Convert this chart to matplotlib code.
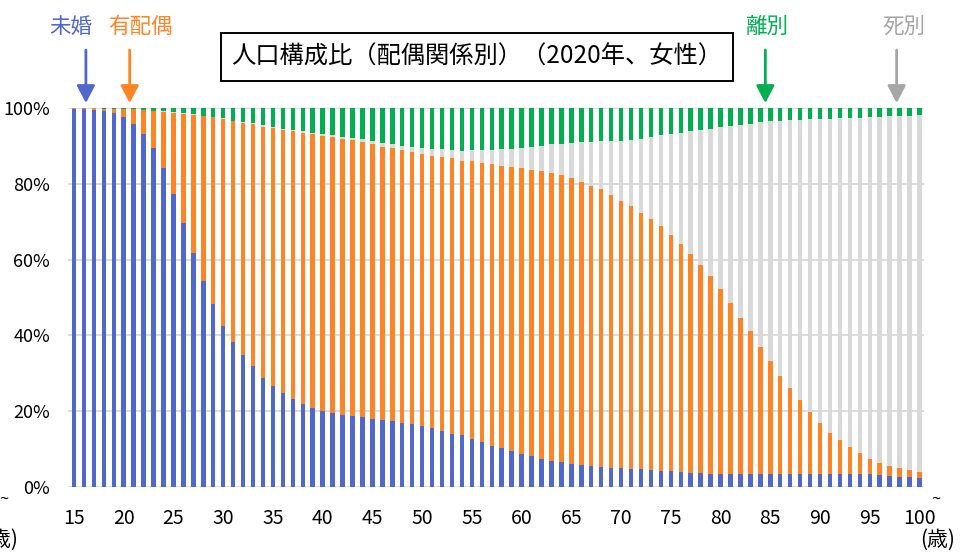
import numpy as np
import matplotlib
matplotlib.use("Agg")
import matplotlib.pyplot as plt

plt.rcParams['font.family'] = ['Noto Sans CJK JP', 'DejaVu Sans']

# ---- data (percent of women by marital status, 2020) ----
ages = list(range(15, 101))
tick_ages = list(range(15, 101, 5))
tick_labels = [str(a) for a in tick_ages]
series_names = ["未婚", "有配偶", "死別", "離別"]

never_married = [
    99.8, 99.7, 99.6, 99.3, 98.8, 97.7, 95.9, 93.2, 89.5, 84.3, 77.3, 69.7, 61.7, 54.4, 48.3, 42.6, 38.3, 34.7, 31.8, 28.8, 26.7,
    24.7, 23.1, 22.0, 20.9, 20.1, 19.5, 19.1, 18.8, 18.5, 18.0, 17.8, 17.3, 17.0, 16.7, 16.2, 15.6, 14.8, 14.1, 13.7, 12.6, 12.0,
    10.9, 10.2, 9.4, 8.8, 8.2, 7.5, 6.9, 6.7, 6.2, 5.9, 5.6, 5.3, 5.1, 4.9, 4.7, 4.7, 4.6, 4.3, 4.1, 3.9, 3.8,
    3.6, 3.5, 3.5, 3.5, 3.3, 3.3, 3.3, 3.3, 3.3, 3.3, 3.5, 3.5, 3.5, 3.5, 3.5, 3.5, 3.3, 3.3, 3.1, 3.0, 2.7, 2.6, 2.3,
]
married = [
    0.1, 0.2, 0.3, 0.5, 1.0, 2.1, 3.8, 6.3, 9.8, 14.7, 21.5, 28.8, 36.5, 43.5, 49.2, 54.5, 58.2, 61.4, 63.9, 66.3, 67.9,
    69.5, 70.7, 71.5, 72.3, 72.6, 72.8, 72.8, 72.8, 72.6, 72.5, 72.0, 72.1, 71.9, 71.7, 71.7, 71.7, 72.2, 72.6, 72.3, 73.3, 73.5,
    74.3, 74.6, 75.0, 75.4, 75.4, 75.9, 75.9, 75.5, 75.2, 74.7, 73.9, 73.2, 72.0, 70.6, 69.4, 67.6, 66.2, 64.6, 62.5, 60.2, 57.8,
    55.1, 52.1, 48.7, 45.1, 41.3, 37.9, 33.7, 29.9, 26.1, 22.7, 19.5, 16.2, 13.5, 10.8, 8.9, 7.1, 5.8, 4.1, 3.2, 2.6, 2.3, 1.9, 1.7,
]
widowed = [
    0.0, 0.0, 0.0, 0.0, 0.0, 0.0, 0.0, 0.0, 0.0, 0.1, 0.1, 0.1, 0.1, 0.1, 0.1, 0.2, 0.2, 0.2, 0.3, 0.3, 0.3,
    0.3, 0.3, 0.3, 0.3, 0.4, 0.5, 0.5, 0.6, 0.6, 0.7, 0.9, 1.0, 1.2, 1.2, 1.5, 1.8, 2.1, 2.2, 2.7, 3.0, 3.4,
    3.8, 4.3, 4.9, 5.3, 6.2, 6.7, 7.6, 8.4, 9.4, 10.3, 11.5, 12.7, 14.2, 15.9, 17.5, 19.6, 21.6, 23.9, 26.5, 29.4, 32.3,
    35.6, 38.9, 42.8, 46.7, 51.0, 54.7, 59.2, 63.3, 67.3, 70.8, 73.9, 77.4, 80.2, 82.9, 85.0, 86.8, 88.3, 90.1, 91.3, 92.2, 92.9, 93.5, 94.2,
]
divorced = [
    0.1, 0.1, 0.1, 0.2, 0.2, 0.2, 0.3, 0.5, 0.7, 0.9, 1.1, 1.4, 1.7, 2.0, 2.4, 2.7, 3.3, 3.7, 4.0, 4.6, 5.1,
    5.5, 5.9, 6.2, 6.5, 6.9, 7.2, 7.6, 7.8, 8.3, 8.8, 9.3, 9.6, 9.9, 10.4, 10.6, 10.9, 10.9, 11.1, 11.3, 11.1, 11.1,
    11.0, 10.9, 10.7, 10.5, 10.2, 9.9, 9.6, 9.4, 9.2, 9.1, 9.0, 8.8, 8.7, 8.6, 8.4, 8.1, 7.6, 7.2, 6.9, 6.5, 6.1,
    5.7, 5.5, 5.0, 4.7, 4.4, 4.1, 3.8, 3.5, 3.3, 3.2, 3.1, 2.9, 2.8, 2.8, 2.6, 2.6, 2.6, 2.5, 2.4, 2.2, 2.1, 2.0, 1.8,
]
arrow_ages = [16.2, 20.6, 97.7, 84.5]   # where each series label points (same order as series_names)

colors = ["#5068CC", "#FF8426", "#D9D9D9", "#00B050"]
label_colors = ["#5068CC", "#FF8426", "#A6A6A6", "#00B050"]
label_offsets = [-1.55, 1.1, 0.7, 0.1]   # label centre relative to arrow (in age units)

# ---- figure ----
W, H = 961, 556
fig = plt.figure(figsize=(W / 100, H / 100), dpi=100)
ax = fig.add_axes([68 / W, 1 - 487 / H, (924 - 68) / W, (487 - 108) / H])

x = np.array(ages, dtype=float)
data = np.array([never_married, married, widowed, divorced], dtype=float)
pct = data / data.sum(axis=0) * 100.0
bottom = np.zeros(len(ages))
for vals, c in zip(pct, colors):
    ax.bar(x, vals, bottom=bottom, width=0.45, color=c, linewidth=0, zorder=2)
    bottom += vals

ax.set_xlim(14.4, 100.45)
ax.set_ylim(0, 100)
ax.set_yticks(range(0, 101, 20))
ax.set_yticklabels([f"{v}%" for v in range(0, 101, 20)])
ax.set_xticks(tick_ages)
ax.set_xticklabels(tick_labels)
ax.tick_params(axis='both', length=0, colors="black")
ax.tick_params(axis='y', pad=13, labelsize=13)
ax.tick_params(axis='x', pad=15, labelsize=14)
ax.grid(axis='y', color="#D9D9D9", linewidth=1.3, zorder=0)
ax.set_axisbelow(True)
for s in ax.spines.values():
    s.set_visible(False)

# ---- series labels with arrows ----
for name, a, lc, off in zip(series_names, arrow_ages, label_colors, label_offsets):
    ax.annotate("", xy=(a, 101.3), xytext=(a, 115.3), xycoords='data',
                annotation_clip=False,
                arrowprops=dict(arrowstyle='-|>,head_width=0.55,head_length=1.05',
                                color=lc, lw=2, shrinkA=0, shrinkB=0))
    ax.text(a + off, 121.4, name, color=lc, fontsize=15.5,
            ha='center', va='center', clip_on=False)

# ---- title box ----
fig.text(477 / W, 1 - 57 / H, "人口構成比（配偶関係別）（2020年、女性）", fontsize=17.5,
         ha='center', va='center', color="black",
         bbox=dict(boxstyle="square,pad=0.44", facecolor="white", edgecolor="black", linewidth=1.4))

# ---- unit labels ----
fig.text(936 / W, 1 - 499 / H, "~", fontsize=12, ha='center', va='center')
fig.text(938 / W, 1 - 540 / H, "(歳)", fontsize=15, ha='center', va='center')
fig.text(4 / W, 1 - 499 / H, "~", fontsize=12, ha='center', va='center')
fig.text(18 / W, 1 - 540 / H, "(歳)", fontsize=15, ha='right', va='center')

fig.savefig("out.png", dpi=100)
